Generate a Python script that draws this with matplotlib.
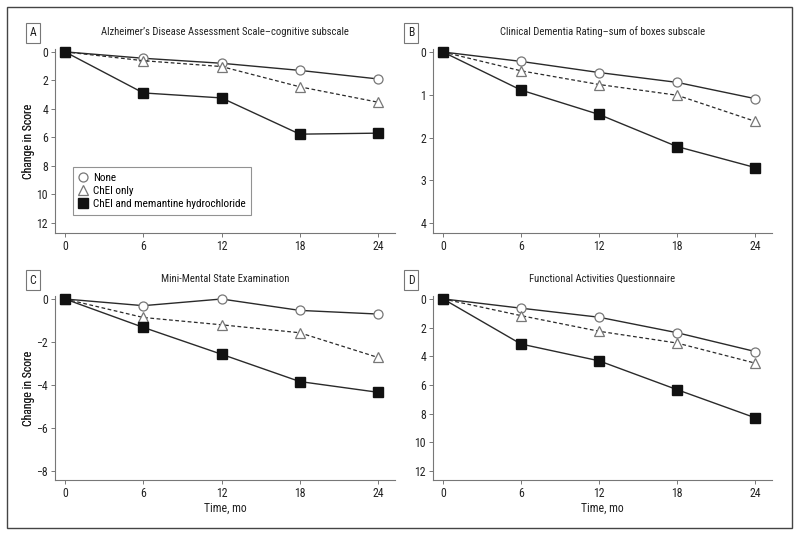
import matplotlib
matplotlib.use('Agg')
import matplotlib.pyplot as plt
from matplotlib.patches import Rectangle

plt.rcParams['font.family'] = ['Roboto Condensed', 'DejaVu Sans']

# data
months = [0, 6, 12, 18, 24]
series_names = ['None', 'ChEI only', 'ChEI and memantine hydrochloride']

adas_none = [0, 0.45, 0.8, 1.3, 1.9]
adas_chei = [0, 0.62, 1.03, 2.45, 3.53]
adas_mem = [0, 2.88, 3.23, 5.77, 5.7]

cdr_none = [0, 0.22, 0.48, 0.71, 1.09]
cdr_chei = [0, 0.44, 0.76, 1.01, 1.62]
cdr_mem = [0, 0.89, 1.46, 2.21, 2.70]

mmse_none = [0, -0.31, 0, -0.53, -0.70]
mmse_chei = [0, -0.86, -1.2, -1.57, -2.72]
mmse_mem = [0, -1.32, -2.57, -3.84, -4.34]

faq_none = [0, 0.65, 1.28, 2.36, 3.67]
faq_chei = [0, 1.17, 2.26, 3.08, 4.48]
faq_mem = [0, 3.15, 4.32, 6.33, 8.29]

titles = ['Alzheimer\u2019s Disease Assessment Scale\u2013cognitive subscale',
          'Clinical Dementia Rating\u2013sum of boxes subscale',
          'Mini-Mental State Examination',
          'Functional Activities Questionnaire']
letters = ['A', 'B', 'C', 'D']
yticks = [[0, 2, 4, 6, 8, 10, 12], [0, 1, 2, 3, 4], [0, -2, -4, -6, -8], [0, 2, 4, 6, 8, 10, 12]]
ylims = [(12.7, -0.2), (4.23, -0.07), (-8.42, 0.14), (12.63, -0.2)]
ytick_labels = [[str(t) for t in yticks[0]], [str(t) for t in yticks[1]],
                ['0', '\u22122', '\u22124', '\u22126', '\u22128'], [str(t) for t in yticks[3]]]
data = [(adas_none, adas_chei, adas_mem), (cdr_none, cdr_chei, cdr_mem),
        (mmse_none, mmse_chei, mmse_mem), (faq_none, faq_chei, faq_mem)]

W, H = 800, 536
fig = plt.figure(figsize=(8, 5.36), dpi=100)
fig.patches.append(Rectangle((7 / W, 1 - 528 / H), 785 / W, 521 / H, transform=fig.transFigure,
                             fill=False, edgecolor='#444444', linewidth=1.0))

# axes boxes in pixels: left, top, right, bottom
boxes = [(55, 49, 395, 233), (433, 49, 772, 233), (55, 296, 395, 480), (433, 296, 772, 480)]

dark = '#2a2a2a'
grey = '#777777'
txt = '#222222'
for k in range(4):
    l, t, r, b = boxes[k]
    ax = fig.add_axes([l / W, 1 - b / H, (r - l) / W, (b - t) / H])
    none, chei, mem = data[k]
    ax.plot(months, none, '-', color=dark, lw=1.0, marker='o', ms=6.5, mfc='white', mec=grey, mew=0.9,
            label=series_names[0], zorder=3, clip_on=False)
    ax.plot(months, chei, '--', color=dark, lw=0.9, marker='^', ms=7.5, mfc='white', mec=grey, mew=0.9,
            label=series_names[1], zorder=3, clip_on=False, dashes=(3, 2))
    ax.plot(months, mem, '-', color=dark, lw=1.0, marker='s', ms=6.5, mfc='#111111', mec='#111111',
            label=series_names[2], zorder=4, clip_on=False)
    ax.set_xlim(-0.77, 25.3)
    ax.set_ylim(*ylims[k])
    ax.set_xticks(months)
    ax.set_yticks(yticks[k])
    ax.set_yticklabels(ytick_labels[k])
    for s in ['top', 'right']:
        ax.spines[s].set_visible(False)
    for s in ['left', 'bottom']:
        ax.spines[s].set_color(grey)
        ax.spines[s].set_linewidth(0.8)
    ax.tick_params(length=3, width=0.7, color=grey, labelsize=8.5, labelcolor=txt, pad=2)
    ax.set_ylabel('Change in Score', fontsize=8.5, color=txt)
    ax.yaxis.set_label_coords((35 - l) / (r - l), 0.5)
    fig.text((l + r) / 2 / W, 1 - (t - 17) / H, titles[k], ha='center', va='center', fontsize=7.7, color=txt)
    fig.text((l - 22) / W, 1 - (t - 16) / H, letters[k], ha='center', va='center', fontsize=8.5, color=txt,
             bbox=dict(boxstyle='square,pad=0.3', fc='white', ec=grey, lw=0.8))
    if k >= 2:
        ax.set_xlabel('Time, mo', fontsize=8.5, color=txt, labelpad=1)
    if k == 0:
        leg = ax.legend(loc='upper left', bbox_to_anchor=(18 / 340, 1 - 118 / 184), fontsize=8,
                        frameon=True, fancybox=False, edgecolor=grey, handlelength=0.8,
                        handletextpad=0.5, borderpad=0.5, labelspacing=0.3, borderaxespad=0)
        leg.get_frame().set_linewidth(0.8)
        for h in leg.legend_handles:
            h.set_linestyle('none')

fig.savefig('out.png', dpi=100)
